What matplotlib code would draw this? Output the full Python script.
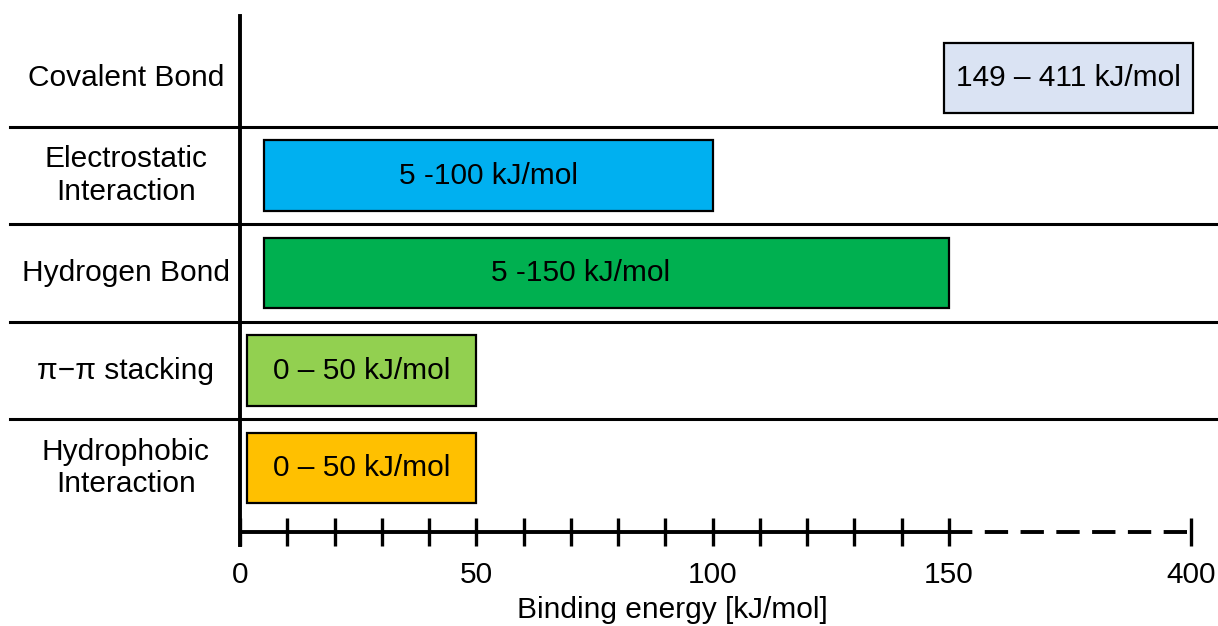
import matplotlib
matplotlib.use("Agg")
import matplotlib.pyplot as plt
import numpy as np

plt.rcParams["font.family"] = ["Liberation Sans", "DejaVu Sans"]

categories = ["Covalent Bond", "Electrostatic\nInteraction", "Hydrogen Bond",
              "\u03c0\u2212\u03c0 stacking", "Hydrophobic\nInteraction"]
starts = [149, 5, 5, 1.5, 1.5]
ends = [402, 100, 150, 50, 50]
bar_labels = ["149 \u2013 411 kJ/mol", "5 -100 kJ/mol", "5 -150 kJ/mol",
              "0 \u2013 50 kJ/mol", "0 \u2013 50 kJ/mol"]
colors = ["#DAE3F3", "#00B0F0", "#00B050", "#92D050", "#FFC000"]
tick_values = list(range(0, 151, 10)) + [400]
tick_labeled = [0, 50, 100, 150, 400]

# axis is linear up to 150, compressed beyond (broken axis)
BREAK, K = 150, 0.205


def fwd(x):
    x = np.asarray(x, dtype=float)
    return np.where(x <= BREAK, x, BREAK + (x - BREAK) * K)


def inv(y):
    y = np.asarray(y, dtype=float)
    return np.where(y <= BREAK, y, BREAK + (y - BREAK) / K)


fig = plt.figure(figsize=(12.18, 6.26), dpi=100)
ax = fig.add_axes([240 / 1218, 1 - 532 / 626, 951 / 1218, 516 / 626])
ax.set_xscale("function", functions=(fwd, inv))
ax.set_xlim(0, 400)
ax.set_ylim(4.656, -0.636)

FS = 21.5
y = np.arange(len(categories))
widths = np.array(ends) - np.array(starts)
ax.barh(y, widths, left=starts, height=0.72, color=colors, edgecolor="black",
        linewidth=1.6, clip_on=False, zorder=3)
for yi, s, e, lab in zip(y, starts, ends, bar_labels):
    xc = inv((fwd(s) + fwd(e)) / 2)
    if lab.startswith("5 -150"):
        xc = 72  # label sits left of centre in the original
    ax.text(xc, yi, lab, ha="center", va="center", fontsize=FS, zorder=4)

for yi, cat in zip(y, categories):
    ax.text(-0.12, yi, cat, transform=ax.get_yaxis_transform(), ha="center",
            va="center", multialignment="center", fontsize=FS, linespacing=1.2)

# row separators across the whole width
for ys in y[:-1] + 0.5:
    ax.plot([-0.242, 1.03], [ys, ys], transform=ax.get_yaxis_transform(),
            color="black", lw=2.2, clip_on=False)

for sp in ax.spines.values():
    sp.set_visible(False)

# y axis line
ax.plot([0, 0], [-0.025, 1], transform=ax.get_xaxis_transform(), color="black",
        lw=2.8, clip_on=False, zorder=5)
# x axis: solid to 150, dashed to 400
ax.plot([0, BREAK], [0, 0], transform=ax.get_xaxis_transform(), color="black",
        lw=2.8, clip_on=False, zorder=5, solid_capstyle="butt")
ax.plot([BREAK, 400], [0, 0], transform=ax.get_xaxis_transform(), color="black",
        lw=2.8, clip_on=False, zorder=5, dashes=(6, 3.2))

ax.set_xticks(tick_values)
ax.set_xticklabels([str(t) if t in tick_labeled else "" for t in tick_values])
ax.tick_params(axis="x", direction="inout", length=19.5, width=2.4, pad=11,
               labelsize=FS)
ax.set_yticks([])
ax.minorticks_off()

fig.text(672 / 1218, 1 - 610 / 626, "Binding energy [kJ/mol]", ha="center",
         va="center", fontsize=FS)

fig.savefig("out.png", dpi=100)
